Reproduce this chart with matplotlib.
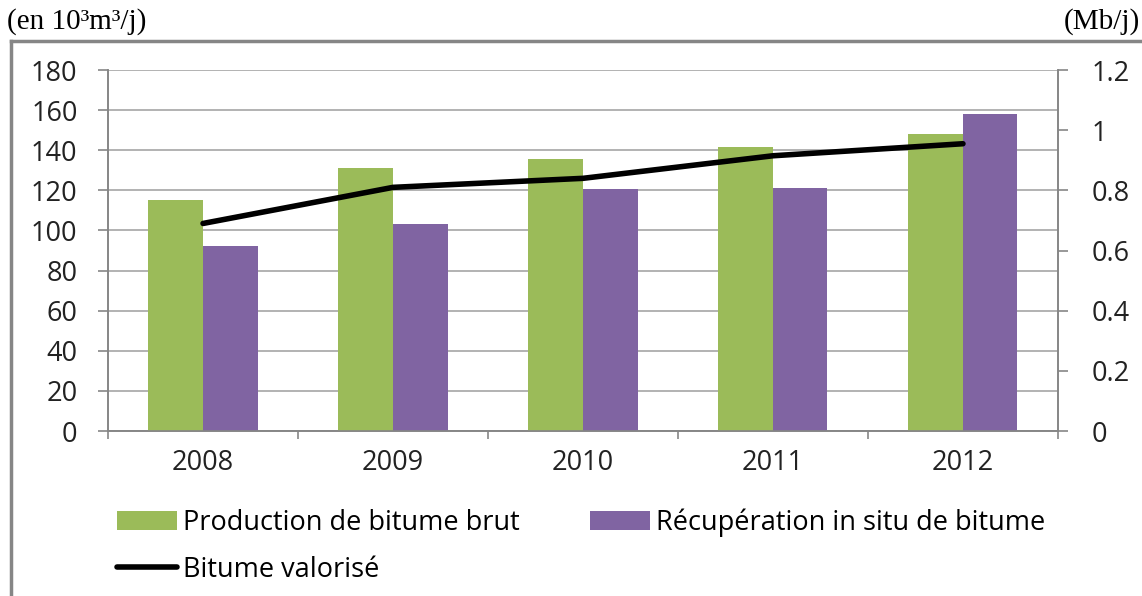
import numpy as np
import matplotlib.pyplot as plt
from matplotlib.lines import Line2D
from matplotlib.ticker import FuncFormatter

years = ["2008", "2009", "2010", "2011", "2012"]
brut = [115, 131, 135.5, 141.5, 148]          # 10^3 m3/j
in_situ = [92.5, 103, 120.5, 121, 158]        # 10^3 m3/j
valorise = [0.69, 0.81, 0.84, 0.915, 0.955]   # Mb/j

green = "#9BBB59"
purple = "#8064A2"
grey = "#868686"
sans = "Open Sans"
serif = "Liberation Serif"

fig = plt.figure(figsize=(11.42, 5.96), dpi=100)
ax = fig.add_axes([0.0946, 0.2768, 0.8318, 0.6057])
ax2 = ax.twinx()

x = np.arange(len(years))
w = 0.287
b1 = ax.bar(x - w / 2, brut, w, color=green, zorder=3)
b2 = ax.bar(x + w / 2, in_situ, w, color=purple, zorder=3)
l1, = ax2.plot(x, valorise, color="black", lw=4, solid_capstyle="round")

ax.set_xlim(-0.5, len(years) - 0.5)
ax.set_ylim(0, 180)
ax.set_yticks(range(0, 181, 20))
ax2.set_ylim(0, 1.2)
ax2.set_yticks(np.arange(0, 1.21, 0.2))
ax2.yaxis.set_major_formatter(FuncFormatter(lambda v, p: "%g" % round(v, 1)))

ax.set_xticks(x)
ax.set_xticklabels(years)
ax.set_xticks(np.arange(-0.5, len(years), 1), minor=True)
ax.tick_params(axis="x", which="major", length=0, pad=13)
ax.tick_params(axis="x", which="minor", length=6, color=grey, width=1.2)
ax.tick_params(axis="y", length=7, color=grey, width=1.2, pad=15)
ax2.tick_params(axis="y", length=7, color=grey, width=1.2, pad=17)
for a in (ax, ax2):
    for lab in a.get_xticklabels() + a.get_yticklabels():
        lab.set_fontfamily(sans)
        lab.set_fontsize(19.5)
        lab.set_color("#222222")

ax.yaxis.grid(True, color="#a6a6a6", lw=1.2, zorder=0)
ax.set_axisbelow(True)
for a in (ax, ax2):
    a.spines["top"].set_visible(False)
    for s in ("left", "right", "bottom"):
        a.spines[s].set_color(grey)
        a.spines[s].set_linewidth(1.2)

fig.legend([b1, l1, b2],
           ["Production de bitume brut", "Bitume valorisé", "Récupération in situ de bitume"],
           ncol=2, loc="upper left", bbox_to_anchor=(0.0814, 0.188), frameon=False,
           prop={"family": sans, "size": 19.5}, handlelength=2.2, handletextpad=0.22,
           columnspacing=2.6, labelspacing=0.7)

fig.text(0.006, 0.941, "(en 10³m³/j)", family=serif, fontsize=21, ha="left", va="bottom")
fig.text(0.998, 0.941, "(Mb/j)", family=serif, fontsize=21, ha="right", va="bottom")

fig.add_artist(Line2D([0.0096, 0.0096], [0, 0.932], transform=fig.transFigure, color=grey, lw=2.5))
fig.add_artist(Line2D([0.0096, 1.0], [0.932, 0.932], transform=fig.transFigure, color=grey, lw=2.5))

fig.savefig("out.png", dpi=100)
